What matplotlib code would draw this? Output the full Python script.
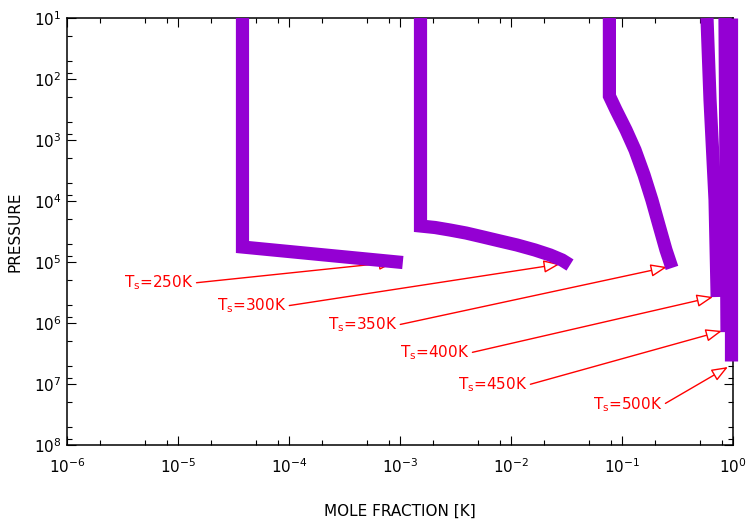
import matplotlib
matplotlib.use('Agg')
import matplotlib.pyplot as plt
from matplotlib.ticker import LogLocator, FuncFormatter
import numpy as np

plt.rcParams['font.family'] = ['DejaVu Sans']
plt.rcParams['mathtext.fontset'] = 'custom'

# mole fraction vs pressure, one curve per surface temperature
x250 = [3.81e-5, 3.81e-5, 1.06e-3]
p250 = [10, 5.68e4, 1.02e5]
x300 = [1.53e-3, 1.53e-3, 2.07e-3, 2.82e-3, 3.94e-3, 5.60e-3, 7.96e-3,
        1.13e-2, 1.64e-2, 2.25e-2, 2.88e-2, 3.40e-2]
p300 = [10, 2.57e4, 2.72e4, 2.99e4, 3.35e4, 3.89e4, 4.53e4,
        5.26e4, 6.35e4, 7.67e4, 9.27e4, 1.12e5]
x350 = [7.70e-2, 7.70e-2, 8.83e-2, 0.1087, 0.131, 0.158, 0.186,
        0.215, 0.249, 0.282]
p350 = [10, 190, 322, 685, 1.46e3, 3.75e3, 9.64e3,
        2.47e4, 6.35e4, 1.25e5]
x400 = [0.583, 0.621, 0.689, 0.72]
p400 = [10, 221, 9.6e3, 3.75e5]
x450 = [0.847, 0.883]
p450 = [10, 1.41e6]
x500 = [0.96, 0.96]
p500 = [10, 4.2e6]

labels = ['250K', '300K', '350K', '400K', '450K', '500K']
tip_x = [9.0e-4, 2.76e-2, 0.254, 0.66, 0.796, 0.90]
tip_p = [1.0e5, 1.08e5, 1.21e5, 3.75e5, 1.35e6, 5.26e6]
text_x = [3.27e-6, 2.24e-5, 2.24e-4, 1.0e-3, 3.33e-3, 5.48e-2]
text_p = [2.21e5, 5.26e5, 1.08e6, 3.1e6, 1.04e7, 2.21e7]

fig = plt.figure(figsize=(7.46, 5.25), dpi=100)
ax = fig.add_axes([67/746, 1-445/525, 666/746, 427/525])

purple = '#9400d3'
for xs, ps in [(x250, p250), (x300, p300), (x350, p350),
               (x400, p400), (x450, p450), (x500, p500)]:
    ax.plot(xs, ps, color=purple, lw=9.5, solid_joinstyle='miter',
            solid_capstyle='butt', clip_on=False, zorder=3)

for lab, tx, tp, sx, sp in zip(labels, tip_x, tip_p, text_x, text_p):
    ax.annotate(r'$\mathregular{T_s}$=' + lab, xy=(tx, tp), xytext=(sx, sp),
                color='red', fontsize=11, ha='left', va='center', zorder=2,
                arrowprops=dict(arrowstyle='-|>,head_length=0.9,head_width=0.35',
                                fc='white', ec='red', lw=1, shrinkA=0, shrinkB=0,
                                relpos=(1, 0.5)))

ax.set_xscale('log')
ax.set_yscale('log')
ax.set_xlim(1e-6, 1)
ax.set_ylim(1e8, 10)

fmt = FuncFormatter(lambda v, pos: r'$\mathregular{10^{%d}}$' % round(np.log10(v)))
for axis in (ax.xaxis, ax.yaxis):
    axis.set_major_locator(LogLocator(base=10, numticks=20))
    axis.set_minor_locator(LogLocator(base=10, subs=(2, 5, 8), numticks=20))
    axis.set_major_formatter(fmt)

ax.tick_params(which='both', direction='in', top=True, right=True, width=0.8,
               labelsize=11)
ax.tick_params(which='major', length=6.5)
ax.tick_params(which='minor', length=3.6)
ax.tick_params(axis='x', which='major', pad=9)
ax.tick_params(axis='y', which='major', pad=4)
for s in ax.spines.values():
    s.set_linewidth(1.1)

ax.set_xlabel('MOLE FRACTION [K]', fontsize=11, labelpad=20)
ax.set_ylabel('PRESSURE', fontsize=11, labelpad=8)

fig.savefig('out.png', dpi=100)
